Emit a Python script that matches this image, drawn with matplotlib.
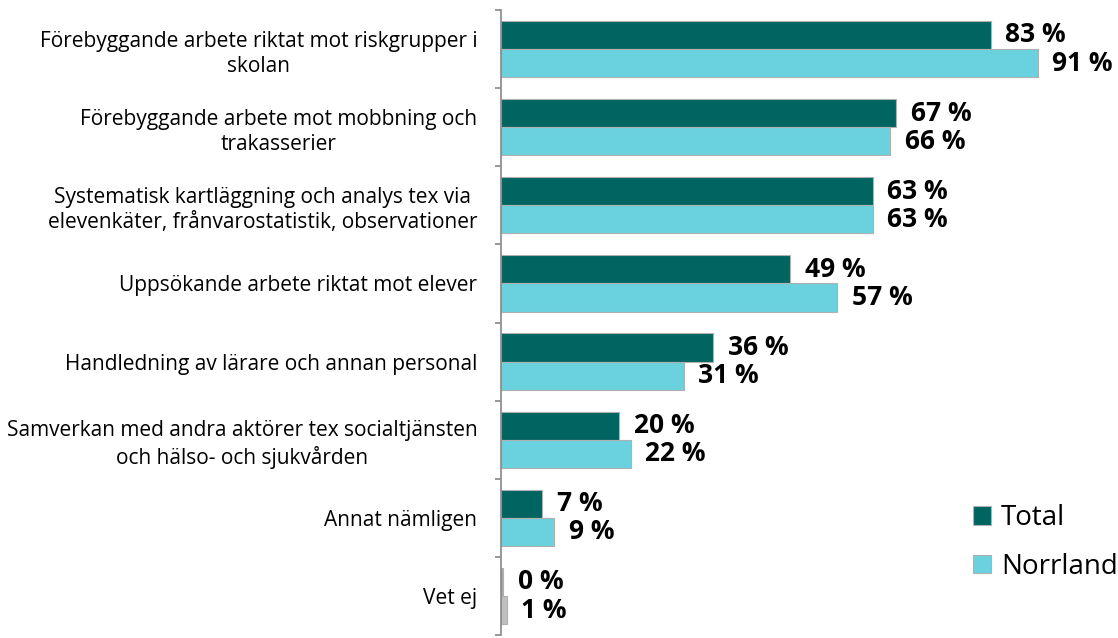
import numpy as np
import matplotlib
matplotlib.use('Agg')
import matplotlib.pyplot as plt

# data
categories = [
    'Förebyggande arbete riktat mot riskgrupper i\nskolan',
    'Förebyggande arbete mot mobbning och\ntrakasserier',
    'Systematisk kartläggning och analys tex via\nelevenkäter, frånvarostatistik, observationer',
    'Uppsökande arbete riktat mot elever',
    'Handledning av lärare och annan personal',
    'Samverkan med andra aktörer tex socialtjänsten\noch hälso- och sjukvården',
    'Annat nämligen',
    'Vet ej',
]
total = [83, 67, 63, 49, 36, 20, 7, 0]
norrland = [91, 66, 63, 57, 31, 22, 9, 1]
series_names = ['Total', 'Norrland']

plt.rcParams['font.family'] = ['Open Sans', 'DejaVu Sans']

c_total = '#006460'
c_norr = '#69D2DE'

fig = plt.figure(figsize=(11.18, 6.38), dpi=100)
ax = fig.add_axes([501/1118, 3/638, 590/1118, 625/638])

n = len(categories)
y = np.arange(n)
h = 0.36

col_t = [c_total] * (n - 1) + ['#A6A6A6']
col_n = [c_norr] * (n - 1) + ['#BFBFBF']

# the 0 % bar still shows a thin sliver in the original
tot_draw = [max(v, 0.4) for v in total]
ax.barh(y - h/2, tot_draw, height=h, color=col_t, edgecolor='#B0B0B0', linewidth=0.8, label=series_names[0])
ax.barh(y + h/2, norrland, height=h, color=col_n, edgecolor='#B0B0B0', linewidth=0.8, label=series_names[1])

for i in range(n):
    ax.annotate(f'{total[i]} %', (tot_draw[i], y[i] - h/2), xytext=(10.5, 0), textcoords='offset points',
                va='center', ha='left', fontsize=19, fontweight='bold')
    ax.annotate(f'{norrland[i]} %', (norrland[i], y[i] + h/2), xytext=(10.5, 0), textcoords='offset points',
                va='center', ha='left', fontsize=19, fontweight='bold')

ax.set_xlim(0, 100)
ax.set_ylim(n - 0.5, -0.5)

for s in ['top', 'right', 'bottom']:
    ax.spines[s].set_visible(False)
ax.spines['left'].set_color('#888888')
ax.spines['left'].set_linewidth(1.2)
ax.set_xticks([])

ax.set_yticks(y)
ax.set_yticklabels(categories, fontsize=15, multialignment='center', linespacing=1.25)
ax.set_yticks(np.arange(n + 1) - 0.5, minor=True)
ax.tick_params(axis='y', which='major', length=0, pad=17)
ax.tick_params(axis='y', which='minor', length=4.5, width=1.2, color='#888888', direction='out')

leg = fig.legend(loc='upper left', bbox_to_anchor=(962/1118, 1 - 493/638), frameon=False,
                 fontsize=20, handlelength=0.65, handleheight=0.65, handletextpad=0.35,
                 labelspacing=0.75, borderaxespad=0)

fig.savefig('out.png', dpi=100)
